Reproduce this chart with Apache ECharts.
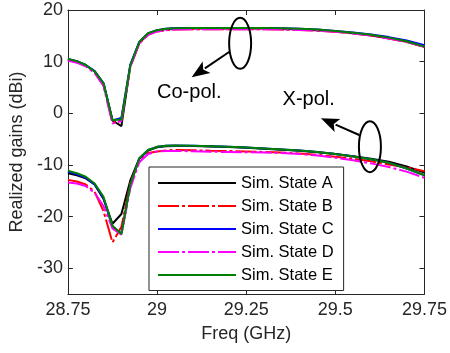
<!DOCTYPE html>
<html>
<head>
<meta charset="utf-8">
<script src="https://cdn.jsdelivr.net/npm/echarts@6/dist/echarts.min.js"></script>
<style>html,body{margin:0;padding:0;background:#fff;}#c{width:450px;height:353px;}</style>
</head>
<body>
<div id="c"></div>
<script>
const freq = [28.75, 28.775, 28.8, 28.825, 28.85, 28.875, 28.9, 28.925, 28.95, 28.975, 29.0, 29.025, 29.05, 29.1, 29.15, 29.2, 29.25, 29.3, 29.35, 29.4, 29.45, 29.5, 29.55, 29.6, 29.65, 29.7, 29.75];
const stateNames = ['Sim. State A', 'Sim. State B', 'Sim. State C', 'Sim. State D', 'Sim. State E'];
const coA = [10.45, 10.05, 9.3, 8.1, 5.7, -1.4, -2.5, 9.2, 13.7, 15.4, 16.0, 16.3, 16.4, 16.4, 16.4, 16.4, 16.4, 16.4, 16.35, 16.25, 16.1, 15.85, 15.5, 15.1, 14.55, 13.85, 12.9];
const coB = [10.3, 9.9, 9.15, 7.9, 5.4, -1.8, -1.3, 9.0, 13.5, 15.2, 15.85, 16.1, 16.2, 16.25, 16.25, 16.25, 16.25, 16.25, 16.2, 16.15, 16.0, 15.8, 15.45, 15.05, 14.5, 13.8, 12.9];
const coC = [10.5, 10.1, 9.35, 8.15, 5.8, -1.4, -0.9, 9.4, 13.8, 15.5, 16.1, 16.35, 16.45, 16.5, 16.5, 16.5, 16.5, 16.5, 16.45, 16.35, 16.2, 15.95, 15.65, 15.25, 14.75, 14.1, 13.2];
const coD = [10.2, 9.8, 9.1, 7.8, 5.3, -2.0, -1.5, 9.0, 13.5, 15.2, 15.85, 16.1, 16.2, 16.25, 16.25, 16.25, 16.25, 16.25, 16.2, 16.15, 16.0, 15.8, 15.45, 15.05, 14.5, 13.8, 12.9];
const coE = [10.5, 10.1, 9.35, 8.1, 5.8, -1.3, -1.2, 9.3, 13.8, 15.5, 16.1, 16.35, 16.45, 16.5, 16.5, 16.5, 16.5, 16.5, 16.45, 16.35, 16.2, 15.95, 15.6, 15.2, 14.65, 13.95, 12.9];
const xA = [-11.6, -12.0, -12.6, -13.8, -16.6, -21.4, -19.5, -13.0, -8.8, -7.2, -6.6, -6.4, -6.35, -6.35, -6.45, -6.55, -6.7, -6.85, -7.05, -7.25, -7.55, -7.9, -8.3, -8.8, -9.4, -10.3, -11.5];
const xB = [-12.9, -13.2, -13.8, -15.2, -19.0, -25.0, -22.0, -13.5, -9.0, -7.7, -7.4, -7.2, -7.1, -7.15, -7.25, -7.3, -7.4, -7.5, -7.6, -7.8, -8.05, -8.4, -8.8, -9.3, -9.9, -10.5, -11.2];
const xC = [-11.3, -11.8, -12.5, -13.8, -16.5, -22.0, -23.3, -13.9, -8.8, -7.1, -6.5, -6.3, -6.25, -6.3, -6.4, -6.5, -6.65, -6.8, -7.0, -7.2, -7.5, -7.9, -8.35, -8.9, -9.6, -10.7, -12.0];
const xD = [-13.4, -13.6, -14.1, -15.4, -18.0, -22.3, -23.5, -14.5, -9.5, -7.9, -7.4, -7.3, -7.3, -7.35, -7.45, -7.5, -7.55, -7.6, -7.7, -7.9, -8.2, -8.6, -9.1, -9.7, -10.4, -11.3, -12.5];
const xE = [-11.1, -11.6, -12.3, -13.6, -16.2, -21.8, -23.4, -13.8, -8.7, -7.1, -6.5, -6.3, -6.25, -6.3, -6.4, -6.5, -6.65, -6.8, -7.0, -7.2, -7.5, -7.9, -8.35, -8.9, -9.6, -10.7, -12.0];
const xTicks = [28.75, 29, 29.25, 29.5, 29.75];
const yTicks = [-30, -20, -10, 0, 10, 20];
// annotation anchors in data units [freq, dB]
const coEllipse = [29.233, 13.55];
const coArrow = [[29.203, 11.92], [29.097, 6.97]];
const coText = [29.0, 3.93];
const xpEllipse = [29.597, -6.47];
const xpArrow = [[29.567, -4.21], [29.4596, -0.97]];
const xpText = [29.352, 2.63];

const FONT = "'Liberation Sans', Arial, sans-serif";
const AX = '#262626';
const coSets = [coA, coB, coC, coD, coE];
const xSets = [xA, xB, xC, xD, xE];
const colors = ['#000000', '#ff0000', '#0000ff', '#ff00ff', '#008000'];
const dashes = ['solid', [21, 3, 3, 3], 'solid', [21, 3, 3, 3], 'solid'];

const pairs = arr => freq.map((f, i) => [f, arr[i]]);
const series = [];
stateNames.forEach((n, k) => {
  [coSets[k], xSets[k]].forEach(arr => {
    series.push({
      name: n, type: 'line', data: pairs(arr), symbol: 'none', showSymbol: false,
      xAxisIndex: 0, yAxisIndex: 0, z: 2 + k,
      lineStyle: { color: colors[k], width: 2, type: dashes[k], cap: 'butt' },
      itemStyle: { color: colors[k] }
    });
  });
});

const chart = echarts.init(document.getElementById('c'), null, { renderer: 'canvas' });
const grid = { left: 63, right: 22, top: 10, bottom: 59 };
const xBase = { type: 'value', min: 28.75, max: 29.75, interval: 0.25, splitLine: { show: false },
  axisLine: { show: true, onZero: false, lineStyle: { color: AX, width: 1 } },
  axisTick: { show: true, inside: true, length: 5, lineStyle: { color: AX } } };
const yBase = { type: 'value', min: -35, max: 20, splitLine: { show: false },
  axisLine: { show: true, onZero: false, lineStyle: { color: AX, width: 1 } },
  axisTick: { show: true, inside: true, length: 5, customValues: yTicks, lineStyle: { color: AX } } };

chart.setOption({
  animation: false,
  backgroundColor: '#ffffff',
  grid: grid,
  legend: {
    data: stateNames, orient: 'vertical', left: 149, top: 167,
    itemWidth: 78, itemHeight: 12, itemGap: 6,
    padding: [7.5, 10, 7, 8],
    backgroundColor: '#ffffff', borderColor: AX, borderWidth: 1,
    itemStyle: { opacity: 0, borderWidth: 0 },
    textStyle: { fontFamily: FONT, fontSize: 16.5, color: '#000' },
    z: 20
  },
  xAxis: [
    Object.assign({}, xBase, { position: 'bottom', name: 'Freq (GHz)', nameLocation: 'middle', nameGap: 31,
      nameTextStyle: { fontFamily: FONT, fontSize: 18, color: AX },
      axisLabel: { show: true, margin: 7, fontFamily: FONT, fontSize: 18, color: AX,
        customValues: xTicks, formatter: v => String(+v.toFixed(2)) } }),
    Object.assign({}, xBase, { position: 'top', axisLabel: { show: false } })
  ],
  yAxis: [
    Object.assign({}, yBase, { position: 'left', name: 'Realized gains (dBi)', nameLocation: 'middle', nameGap: 38,
      nameTextStyle: { fontFamily: FONT, fontSize: 18, color: AX },
      axisLabel: { show: true, margin: 5, fontFamily: FONT, fontSize: 18, color: AX, customValues: yTicks } }),
    Object.assign({}, yBase, { position: 'right', axisLabel: { show: false } })
  ],
  series: series
});

function P(d) { return chart.convertToPixel({ xAxisIndex: 0, yAxisIndex: 0 }, d); }
function arrow(a, b) {
  const p0 = P(a), p1 = P(b);
  const dx = p1[0] - p0[0], dy = p1[1] - p0[1];
  const L = Math.hypot(dx, dy), ux = dx / L, uy = dy / L;
  const hl = 18, hw = 7;
  const bx = p1[0] - ux * hl, by = p1[1] - uy * hl;
  return [
    { type: 'line', z: 30, shape: { x1: p0[0], y1: p0[1], x2: bx + ux * 2, y2: by + uy * 2 },
      style: { stroke: '#000', lineWidth: 2 } },
    { type: 'polygon', z: 30, shape: { points: [[p1[0], p1[1]], [bx - uy * hw, by + ux * hw], [bx + ux * 4, by + uy * 4], [bx + uy * hw, by - ux * hw]] },
      style: { fill: '#000' } }
  ];
}
function ellipse(c) {
  const p = P(c);
  return { type: 'ellipse', z: 30, shape: { cx: p[0], cy: p[1], rx: 11, ry: 25.5 },
    style: { fill: 'none', stroke: '#000', lineWidth: 2 } };
}
function label(c, t) {
  const p = P(c);
  return { type: 'text', z: 30, x: p[0], y: p[1],
    style: { text: t, font: "20px 'Liberation Sans', Arial, sans-serif", fill: '#000', textAlign: 'left', textVerticalAlign: 'middle', verticalAlign: 'middle' } };
}
chart.setOption({
  graphic: [ellipse(coEllipse), ...arrow(coArrow[0], coArrow[1]), label(coText, 'Co-pol.'),
            ellipse(xpEllipse), ...arrow(xpArrow[0], xpArrow[1]), label(xpText, 'X-pol.')]
});
</script>
</body>
</html>
